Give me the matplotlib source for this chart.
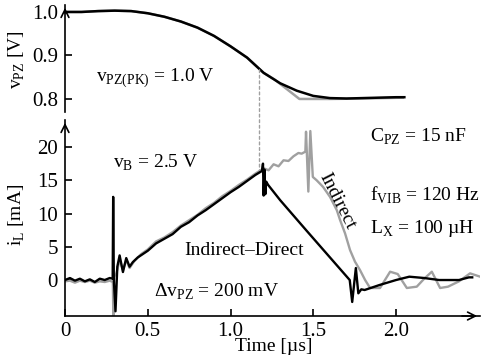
import numpy as np
import matplotlib.pyplot as plt
from matplotlib.patches import ConnectionPatch

plt.rcParams['font.family'] = 'Liberation Serif'
plt.rcParams['mathtext.fontset'] = 'custom'
plt.rcParams['mathtext.rm'] = 'Liberation Serif'
plt.rcParams['font.size'] = 14

# piezo voltage, top panel
t_vpz = [0, 0.1, 0.2, 0.3, 0.4, 0.5, 0.6, 0.7, 0.8, 0.9, 1.0, 1.1, 1.2,
         1.3, 1.4, 1.5, 1.6, 1.7, 1.8, 1.9, 2.0, 2.05]
vpz_direct = [1.0, 1.0, 1.002, 1.003, 1.002, 0.997, 0.989, 0.978, 0.964, 0.945,
              0.921, 0.895, 0.860, 0.836, 0.819, 0.807, 0.802, 0.801, 0.802,
              0.803, 0.804, 0.804]
t_vpz_ind = [0, 0.1, 0.2, 0.3, 0.4, 0.5, 0.6, 0.7, 0.8, 0.9, 1.0, 1.1, 1.2,
             1.265, 1.416, 1.6, 1.8, 2.04]
vpz_ind = [1.0, 1.0, 1.002, 1.003, 1.002, 0.997, 0.989, 0.978, 0.964, 0.945,
           0.921, 0.895, 0.860, 0.845, 0.800, 0.800, 0.801, 0.803]

# inductor current, bottom panel
t_il_d = [0, 0.03, 0.06, 0.09, 0.12, 0.15, 0.18, 0.21, 0.24, 0.27, 0.288,
          0.291, 0.295, 0.305, 0.316, 0.33, 0.35, 0.37, 0.39, 0.41, 0.44,
          0.5, 0.55, 0.6, 0.65, 0.7, 0.75, 0.8, 0.85, 0.9, 0.95, 1.0, 1.05,
          1.1, 1.15, 1.19, 1.196, 1.2, 1.205, 1.21, 1.215, 1.227, 1.3, 1.46,
          1.72, 1.735, 1.757, 1.772, 1.79, 1.81, 1.9, 2.0, 2.08, 2.17, 2.26,
          2.38, 2.44, 2.46]
il_d = [0.0, 0.3, -0.1, 0.2, -0.2, 0.1, -0.3, 0.2, 0.0, 0.3, 0.2,
        12.5, 0.0, -4.7, 2.0, 3.7, 1.2, 3.3, 2.0, 2.7, 3.4,
        4.4, 5.5, 6.2, 6.9, 8.0, 8.7, 9.7, 10.5, 11.4, 12.3, 13.2, 14.0,
        14.9, 15.8, 16.4, 17.5, 12.7, 16.6, 12.9, 14.8, 14.3, 12.0, 7.4,
        0.0, -3.3, 1.8, -2.0, -1.4, -1.5, -0.75, 0.0, 0.5, 0.3, 0.0,
        0.0, 0.4, 0.4]
t_il_i = [0, 0.03, 0.06, 0.09, 0.12, 0.15, 0.18, 0.21, 0.24, 0.27, 0.289,
          0.292, 0.297, 0.31, 0.33, 0.35, 0.37, 0.39, 0.42, 0.46,
          0.5, 0.55, 0.6, 0.65, 0.7, 0.75, 0.8, 0.85, 0.9, 0.95, 1.0, 1.05,
          1.1, 1.15, 1.175, 1.2, 1.23, 1.26, 1.29, 1.32, 1.35, 1.38, 1.41,
          1.43, 1.452, 1.456, 1.47, 1.482, 1.497, 1.52, 1.559, 1.601, 1.642,
          1.662, 1.692, 1.722, 1.752, 1.782, 1.813, 1.843, 1.903, 1.964,
          2.01, 2.065, 2.125, 2.17, 2.216, 2.266, 2.314, 2.38, 2.447, 2.508]
il_i = [-0.2, -0.1, -0.4, -0.1, -0.3, -0.1, -0.4, -0.2, -0.3, -0.1, -0.3,
        -5.5, 0.5, 1.0, 3.0, 1.5, 3.0, 1.8, 2.9, 3.9,
        4.6, 5.8, 6.4, 7.2, 8.2, 9.0, 9.8, 10.8, 11.6, 12.6, 13.4, 14.3,
        15.1, 16.0, 16.4, 16.8, 16.5, 17.4, 17.1, 18.0, 17.9, 18.6, 19.1,
        19.0, 19.3, 22.3, 13.3, 22.4, 15.5, 15.0, 14.0, 12.5, 10.5,
        9.0, 7.0, 4.5, 2.75, 1.5, 0.0, -1.2, -1.2, 1.25,
        0.9, -1.2, -1.0, 0.2, 1.25, -1.2, -1.0, -0.2, 1.0, 0.5]

fig = plt.figure(figsize=(4.82, 3.56), dpi=100)
ax1 = fig.add_axes([65/482, 1-112/356, 415/482, 107/356])
ax2 = fig.add_axes([65/482, 40/356, 415/482, 196/356], sharex=ax1)

gray = '#a0a0a0'
ax1.plot(t_vpz_ind, vpz_ind, color=gray, lw=1.8)
ax1.plot(t_vpz, vpz_direct, color='k', lw=1.8)
ax2.plot(t_il_i, il_i, color=gray, lw=1.7)
ax2.plot(t_il_d, il_d, color='k', lw=1.7)

ax1.set_xlim(0, 2.507)
ax1.set_ylim(0.770, 1.016)
ax2.set_ylim(-5.41, 24.06)

for sp in ['top', 'right', 'bottom']:
    ax1.spines[sp].set_visible(False)
for sp in ['top', 'right']:
    ax2.spines[sp].set_visible(False)
for ax in (ax1, ax2):
    for sp in ax.spines.values():
        sp.set_linewidth(1.2)
    ax.tick_params(direction='in', length=5, width=1.2, pad=5, labelsize=15)
    ax.patch.set_visible(False)

ax1.set_yticks([0.8, 0.9, 1.0])
ax1.tick_params(axis='x', bottom=False, labelbottom=False)
ax2.set_yticks([0, 5, 10, 15, 20])
ax2.set_xticks([0, 0.5, 1.0, 1.5, 2.0])
ax2.set_xticklabels(['0', '0.5', '1.0', '1.5', '2.0'])
ax2.tick_params(axis='x', pad=4)

# arrow heads on axes
arw = dict(arrowstyle='->', lw=1.2, color='k', mutation_scale=14)
ax1.annotate('', xy=(0, 1.0), xytext=(0, 0.9), xycoords='axes fraction',
             arrowprops=arw)
ax2.annotate('', xy=(0, 1.0), xytext=(0, 0.95), xycoords='axes fraction',
             arrowprops=arw)
ax2.annotate('', xy=(1.0, 0), xytext=(0.95, 0), xycoords='axes fraction',
             arrowprops=arw)

fig.text(17/482, 1-60/356, r'v$_{\mathrm{PZ}}$ [V]', rotation=90,
         ha='center', va='center')
fig.text(17/482, 1-215/356, r'i$_{\mathrm{L}}$ [mA]', rotation=90,
         ha='center', va='center')
fig.text(274/482, 5/356, 'Time [µs]', ha='center', va='baseline')

# dashed marker line
con = ConnectionPatch(xyA=(1.175, 0.867), coordsA=ax1.transData,
                      xyB=(1.175, 16.5), coordsB=ax2.transData,
                      ls=(0, (2, 2)), color=gray, lw=1.0)
fig.add_artist(con)

ax1.text(0.19, 0.848, r'v$_{\mathrm{PZ(PK)}}$ = 1.0 V', va='center')
ax2.text(0.29, 17.6, r'v$_{\mathrm{B}}$ = 2.5 V', va='center')
ax2.text(1.84, 21.6, r'C$_{\mathrm{PZ}}$ = 15 nF', va='center')
ax2.text(1.84, 12.7, r'f$_{\mathrm{VIB}}$ = 120 Hz', va='center')
ax2.text(1.84, 7.8, r'L$_{\mathrm{X}}$ = 100 µH', va='center')
ax2.text(0.72, 4.5, 'Indirect–Direct', va='center')
ax2.text(0.54, -1.8, r'Δv$_{\mathrm{PZ}}$ = 200 mV', va='center')
ax2.text(1.645, 11.9, 'Indirect', rotation=-63, ha='center', va='center',
         rotation_mode='anchor')

fig.savefig('out.png', dpi=100)
